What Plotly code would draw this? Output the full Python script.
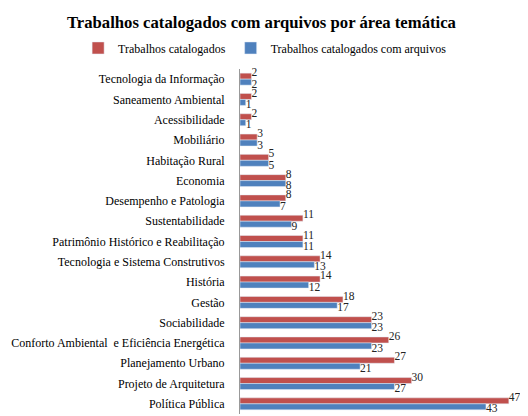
import plotly.graph_objects as go

# Categorias (de cima para baixo)
areas = [
    'Tecnologia da Informação',
    'Saneamento Ambiental',
    'Acessibilidade',
    'Mobiliário',
    'Habitação Rural',
    'Economia',
    'Desempenho e Patologia',
    'Sustentabilidade',
    'Patrimônio Histórico e Reabilitação',
    'Tecnologia e Sistema Construtivos',
    'História',
    'Gestão',
    'Sociabilidade',
    'Conforto Ambiental  e Eficiência Energética',
    'Planejamento Urbano',
    'Projeto de Arquitetura',
    'Política Pública',
]
catalogados = [2, 2, 2, 3, 5, 8, 8, 11, 11, 14, 14, 18, 23, 26, 27, 30, 47]
com_arquivos = [2, 1, 1, 3, 5, 8, 7, 9, 11, 13, 12, 17, 23, 23, 21, 27, 43]

FONT = 'Liberation Serif'

fig = go.Figure()
fig.add_trace(go.Bar(
    y=areas, x=catalogados, orientation='h', name='Trabalhos catalogados',
    marker_color='#C0504D',
))
fig.add_trace(go.Bar(
    y=areas, x=com_arquivos, orientation='h', name='Trabalhos catalogados com arquivos',
    marker_color='#4F81BD',
))

# rótulos: vermelho um pouco acima, azul um pouco abaixo (como no Excel)
fig.add_trace(go.Scatter(
    y=areas, x=catalogados, mode='text', text=catalogados,
    textposition='top right', showlegend=False, cliponaxis=False,
    textfont=dict(family=FONT, size=11.5, color='#222'), hoverinfo='skip',
))
fig.add_trace(go.Scatter(
    y=areas, x=com_arquivos, mode='text', text=com_arquivos,
    textposition='bottom right', showlegend=False, cliponaxis=False,
    textfont=dict(family=FONT, size=11.5, color='#222'), hoverinfo='skip',
))

fig.update_layout(
    width=528, height=416,
    margin=dict(l=232, r=10, t=61, b=10, autoexpand=False),
    paper_bgcolor='white', plot_bgcolor='white',
    font=dict(family=FONT, size=12, color='black'),
    barmode='group', bargap=0.41, bargroupgap=0,
    title=dict(text='<b>Trabalhos catalogados com arquivos por área temática</b>',
               x=0.48, xref='container', xanchor='center',
               y=1 - 14 / 416, yref='container', yanchor='middle',
               font=dict(family=FONT, size=16.7, color='black')),
    # legenda acima da área do gráfico, começando à esquerda dela
    legend=dict(orientation='h', x=-0.566, xanchor='left',
                y=1.061, yanchor='middle',
                font=dict(family=FONT, size=12), itemwidth=30),
    showlegend=True,
)
fig.update_xaxes(range=[0, 50], showticklabels=False, showgrid=False,
                 zeroline=False, showline=False, ticks='')
fig.update_yaxes(range=[len(areas) - 0.5, -0.5], autorange=False,
                 showgrid=False, showline=True,
                 linecolor='#999', linewidth=1, ticks='', ticklabelstandoff=12,
                 tickfont=dict(family=FONT, size=12, color='black'))

fig.write_html('out.html')
